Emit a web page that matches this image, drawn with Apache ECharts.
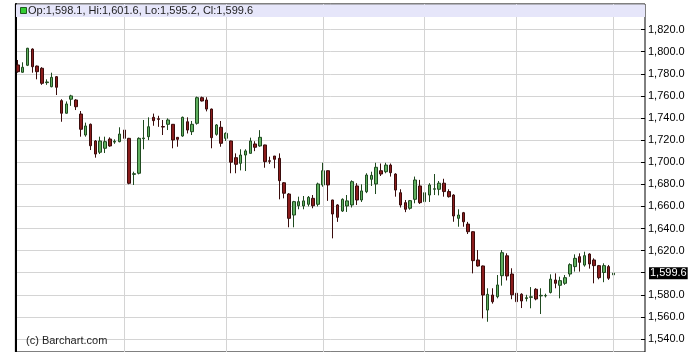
<!DOCTYPE html>
<html>
<head>
<meta charset="utf-8">
<style>
  html, body { margin: 0; padding: 0; background: #fff; }
  #chart { width: 694px; height: 352px; }
</style>
<script src="https://cdn.jsdelivr.net/npm/echarts@6/dist/echarts.min.js"></script>
</head>
<body>
<div id="chart"></div>
<script>
// ---- data ----
const opens = [
  1788.0,1781.4,1787.7,1802.4,1787.0,1785.0,1772.0,1768.3,1777.4,1755.7,
  1744.3,1757.0,1756.3,1743.6,1724.6,1734.3,1719.2,1709.0,1712.6,1721.0,
  1718.2,1718.6,1729.1,1721.6,1689.0,1690.0,1721.3,1723.1,1740.6,1739.3,
  1732.3,1734.3,1734.3,1722.5,1723.7,1736.6,1727.6,1735.2,1758.4,1756.3,
  1748.1,1725.2,1731.6,1721.6,1719.2,1704.1,1699.0,1706.5,1708.0,1716.5,
  1714.7,1715.6,1701.3,1705.6,1703.5,1681.4,1671.2,1652.2,1660.6,1660.4,
  1661.9,1667.3,1661.9,1679.4,1692.3,1665.8,1661.3,1655.8,1660.4,1661.3,
  1678.5,1665.8,1673.3,1684.5,1680.3,1692.3,1691.4,1697.4,1689.3,1672.4,
  1663.4,1658.3,1666.4,1678.5,1664.3,1670.3,1675.5,1675.5,1681.0,1673.4,
  1670.3,1649.2,1654.3,1644.0,1637.1,1611.5,1606.1,1566.2,1579.8,1578.3,
  1597.3,1615.3,1598.8,1581.4,1580.5,1576.6,1577.7,1585.0,1579.0,1579.0,
  1582.1,1593.4,1588.6,1590.4,1598.8,1605.5,1614.5,1606.9,1616.9,1611.5,
  1606.4,1600.2,1605.5,1598.1
];
const closes = [
  1781.9,1785.9,1803.1,1786.4,1781.9,1771.4,1772.6,1776.8,1767.8,1744.3,
  1752.7,1760.0,1750.2,1729.8,1732.8,1714.9,1707.4,1719.2,1718.6,1714.7,
  1718.9,1725.5,1721.6,1680.9,1689.6,1721.6,1721.9,1732.1,1737.6,1738.8,
  1731.8,1738.2,1720.1,1720.7,1740.6,1729.1,1734.3,1758.4,1755.4,1748.1,
  1722.2,1733.7,1717.1,1726.1,1700.0,1698.1,1706.5,1710.2,1719.2,1713.5,
  1722.5,1700.5,1700.8,1702.6,1683.3,1671.9,1649.2,1664.3,1664.3,1665.0,
  1668.2,1660.6,1680.3,1692.3,1679.4,1653.1,1650.1,1666.4,1665.0,1682.4,
  1665.8,1674.0,1688.4,1688.1,1695.4,1689.3,1697.4,1690.5,1674.8,1661.3,
  1657.4,1665.2,1683.9,1663.4,1672.4,1679.4,1676.0,1681.0,1673.4,1668.8,
  1651.3,1652.2,1646.1,1637.1,1610.9,1606.1,1579.8,1580.4,1573.7,1588.9,
  1618.1,1597.0,1580.0,1573.8,1574.4,1577.4,1578.2,1576.2,1579.5,1579.4,
  1594.2,1590.4,1592.8,1595.5,1607.3,1613.0,1609.4,1615.4,1607.9,1606.4,
  1595.5,1606.4,1595.0,1599.6
];
const lows = [
  1781.0,1781.0,1787.0,1781.0,1775.0,1770.0,1770.0,1767.8,1760.8,1736.6,
  1744.0,1751.0,1747.2,1723.1,1723.1,1711.0,1704.1,1707.4,1708.3,1714.0,
  1716.6,1718.0,1721.0,1680.0,1679.4,1689.0,1711.7,1720.0,1733.0,1732.0,
  1724.6,1729.1,1712.6,1714.0,1723.0,1726.0,1724.6,1734.0,1755.0,1746.0,
  1712.6,1724.0,1714.0,1719.2,1690.0,1690.0,1692.6,1692.0,1708.0,1710.0,
  1714.0,1695.0,1698.5,1694.5,1666.4,1667.3,1641.1,1641.1,1657.4,1657.4,
  1660.0,1658.3,1660.0,1677.8,1665.0,1631.1,1646.0,1655.0,1655.0,1659.0,
  1661.3,1664.0,1672.0,1678.5,1671.2,1687.5,1690.0,1687.0,1668.8,1659.0,
  1654.8,1657.0,1662.8,1662.2,1662.0,1664.0,1670.3,1670.0,1668.8,1668.0,
  1646.1,1641.6,1641.6,1635.0,1599.4,1605.5,1558.7,1555.6,1572.0,1576.8,
  1588.3,1593.0,1576.0,1565.3,1568.0,1574.0,1567.8,1575.0,1562.6,1577.6,
  1581.2,1585.9,1576.8,1589.0,1596.4,1601.0,1601.0,1605.5,1603.7,1590.4,
  1594.0,1591.4,1593.5,1595.2
];
const highs = [
  1792.5,1790.4,1803.5,1803.0,1787.5,1786.0,1775.0,1781.0,1778.0,1757.0,
  1755.0,1761.0,1757.0,1746.3,1735.8,1735.0,1720.0,1723.1,1723.1,1722.5,
  1720.7,1731.6,1730.6,1722.0,1691.4,1722.5,1738.2,1740.6,1744.0,1742.0,
  1738.2,1739.7,1734.5,1722.5,1741.3,1740.6,1737.3,1759.4,1759.4,1758.8,
  1748.5,1734.5,1737.3,1727.0,1719.5,1708.0,1711.7,1711.7,1722.2,1719.0,
  1729.0,1715.8,1705.0,1705.6,1708.0,1682.0,1672.0,1665.0,1668.8,1669.4,
  1669.4,1670.3,1681.5,1699.5,1692.5,1666.0,1662.0,1667.3,1670.3,1683.6,
  1681.0,1680.0,1690.0,1691.4,1699.5,1698.8,1699.5,1698.8,1690.0,1675.5,
  1665.8,1665.8,1687.0,1684.0,1681.5,1681.0,1689.3,1683.0,1685.0,1675.5,
  1671.0,1657.4,1655.0,1646.0,1637.5,1620.5,1606.5,1585.9,1585.9,1597.9,
  1620.5,1617.6,1604.0,1587.3,1581.4,1580.0,1587.0,1586.0,1585.9,1581.0,
  1598.5,1599.4,1596.4,1597.9,1608.5,1616.6,1617.5,1619.0,1617.5,1613.0,
  1607.0,1608.5,1607.0,1601.6
];
const monthStartIdx = [22, 43, 63, 84, 103, 123];
const yTickMin = 1540, yTickMax = 1820, yTickStep = 20;
const extraSlots = 6; // empty space to the right of the last bar
const headerText = 'Op:1,598.1, Hi:1,601.6, Lo:1,595.2, Cl:1,599.6';
const watermark = '(c) Barchart.com';

// ---- build ----
const nCat = opens.length + extraSlots;
const categories = [];
for (let i = 0; i < nCat; i++) categories.push(String(i + 1));
const candles = opens.map((o, i) => [o, closes[i], lows[i], highs[i]]);
const lastClose = closes[closes.length - 1];

const FONT = '"Liberation Sans", Arial, sans-serif';
const fmt = v => v.toLocaleString('en-US', { minimumFractionDigits: 1, maximumFractionDigits: 1 });

const GL = 15.4, GR = 49;

const chart = echarts.init(document.getElementById('chart'), null, { renderer: 'canvas' });
chart.setOption({
  animation: false,
  backgroundColor: '#ffffff',
  grid: [
    { left: GL, right: GR, top: 29.6, bottom: 13, show: false },
    { left: GL, right: GR, top: 4, bottom: -2, show: true, borderColor: '#000', borderWidth: 1, backgroundColor: 'transparent' }
  ],
  xAxis: [
    { type: 'category', gridIndex: 0, data: categories, boundaryGap: true,
      axisLine: { show: false }, axisTick: { show: false }, axisLabel: { show: false }, splitLine: { show: false } },
    { type: 'category', gridIndex: 1, data: categories, boundaryGap: true,
      axisLine: { show: false }, axisTick: { show: false }, axisLabel: { show: false }, splitLine: { show: false } }
  ],
  yAxis: [
    { type: 'value', gridIndex: 0, position: 'right', min: yTickMin, max: yTickMax, interval: yTickStep,
      axisLine: { show: false },
      axisTick: { show: true, inside: true, length: 4, lineStyle: { color: '#000' } },
      axisLabel: { margin: 3, color: '#000', fontSize: 11, fontFamily: FONT,
        formatter: v => (Math.abs(v - lastClose) < 2 ? '' : fmt(v)) },
      splitLine: { show: true, lineStyle: { color: '#d4d4d4', width: 1 } } },
    { type: 'value', gridIndex: 1, position: 'left', min: 0, max: 1,
      axisLine: { show: true, lineStyle: { color: '#000', width: 2 } },
      axisTick: { show: false }, axisLabel: { show: false }, splitLine: { show: false } }
  ],
  series: [
    {
      type: 'line', xAxisIndex: 1, yAxisIndex: 1, data: [], silent: true,
      markLine: {
        silent: true, symbol: 'none', animation: false,
        label: { show: false },
        lineStyle: { color: '#d4d4d4', width: 1, type: 'solid' },
        data: monthStartIdx.map(i => ({ xAxis: categories[i] }))
      }
    },
    {
      type: 'candlestick', xAxisIndex: 0, yAxisIndex: 0, data: candles,
      barWidth: 3,
      itemStyle: {
        color: '#5faf5f', color0: '#8b1c1c',
        borderColor: '#1f4a1f', borderColor0: '#3a0c0c', borderWidth: 1
      },
      markLine: {
        silent: true, symbol: 'none', animation: false,
        lineStyle: { color: 'rgba(0,0,0,0)', width: 0 },
        label: {
          show: true, position: 'end', distance: 4,
          formatter: () => fmt(lastClose),
          color: '#fff', backgroundColor: '#000', fontSize: 11, fontFamily: FONT,
          padding: [1, 1, 0, 1]
        },
        data: [{ yAxis: lastClose }]
      }
    }
  ],
  graphic: [
    { type: 'rect', z: 100, shape: { x: 16, y: 4.5, width: 629, height: 12.5 }, style: { fill: '#e6e6fa' } },
    { type: 'rect', z: 101, shape: { x: 20.5, y: 7.5, width: 6, height: 6 }, style: { fill: '#33cc33', stroke: '#1f5a1f', lineWidth: 1 } },
    { type: 'text', z: 101, x: 28, y: 11, style: { text: headerText, fill: '#222', font: '11px ' + FONT, verticalAlign: 'middle' } },
    { type: 'text', z: 101, x: 26, y: 341, style: { text: watermark, fill: '#222', font: '11px ' + FONT, verticalAlign: 'middle' } }
  ]
});
</script>
</body>
</html>
